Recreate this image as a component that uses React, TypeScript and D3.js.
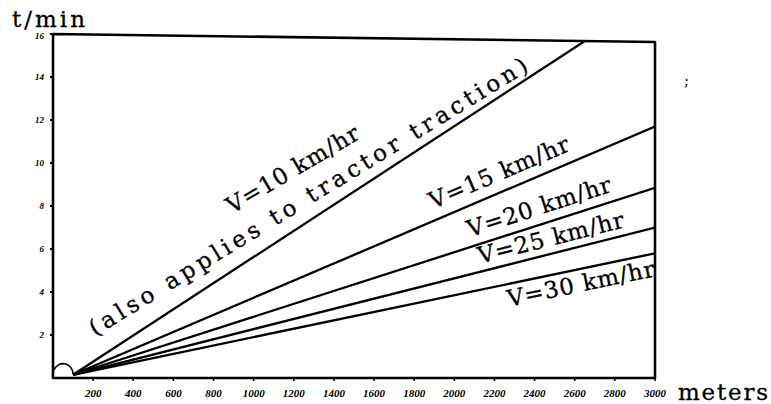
import React from 'react';
import * as d3 from 'd3';

// haul distance (meters) where each line starts and ends
const distances = [100, 3000];
// output t/min at those distances, one array per speed
const v10 = [0.15, 17.8];
const v15 = [0.15, 11.7];
const v20 = [0.15, 8.85];
const v25 = [0.15, 7.0];
const v30 = [0.15, 5.8];
const speedLabels = ['V=10 km/hr', 'V=15 km/hr', 'V=20 km/hr', 'V=25 km/hr', 'V=30 km/hr'];
// where each label starts along its line (meters)
const labelStarts = [892, 1894, 2078, 2128, 2272];
const note = '(also applies to tractor traction)';
const noteStart = 209;

const xTicks = [200, 400, 600, 800, 1000, 1200, 1400, 1600, 1800, 2000, 2200, 2400, 2600, 2800, 3000];
const yTicks = [2, 4, 6, 8, 10, 12, 14, 16];

const W = 771;
const H = 404;
// typewriter look: slab-ish serif glyphs set to a fixed pitch
const TYPE = '"DejaVu Serif", "Liberation Serif", serif';
const PITCH = 15;

export default function App() {
  const x = d3.scaleLinear().domain([0, 3000]).range([53, 655]);
  const y = d3.scaleLinear().domain([0, 16]).range([378, 34]);
  const x0 = x(0), x1 = x(3000), yb = y(0), yt = y(16);
  const topSkew = 8; // scan is slightly tilted at the top edge

  const series = [v10, v15, v20, v25, v30];
  const line = d3.line<number>().x((d, i) => x(distances[i])).y((d) => y(d));

  const frame = `M${x0},${yb} L${x0},${yt} L${x1},${yt + topSkew} L${x1},${yb} Z`;

  // vertical offsets of label baselines from their line (px, + is above)
  const labelLift = [57, 12, 10, 8, -23];
  // the hand-typed labels on the steep line sit a little flatter than it
  const labelTilt: (number | null)[] = [30.5, null, null, null, null];

  const placeOn = (vals: number[], dist: number, lift: number, tilt: number | null = null) => {
    const t = (dist - distances[0]) / (distances[1] - distances[0]);
    const v = vals[0] + t * (vals[1] - vals[0]);
    const px = x(dist);
    const py = y(v) - lift;
    const ang =
      tilt ??
      (Math.atan2(y(vals[0]) - y(vals[1]), x(distances[1]) - x(distances[0])) * 180) / Math.PI;
    return `translate(${px},${py}) rotate(${-ang})`;
  };

  return (
    <svg width={W} height={H} style={{ position: 'absolute', left: 0, top: 0, background: '#fff' }}>
      <defs>
        <clipPath id="plot">
          <path d={frame} />
        </clipPath>
      </defs>

      <g clipPath="url(#plot)">
        {series.map((s, i) => (
          <path key={i} d={line(s) || ''} fill="none" stroke="#000" strokeWidth={2.3} />
        ))}
      </g>

      <path d={frame} fill="none" stroke="#000" strokeWidth={2.6} strokeLinejoin="round" />

      {/* little arc at the origin */}
      <path
        d={`M${x0 + 1},${yb - 8} A10,11 0 0 1 ${x(100)},${yb - 4}`}
        fill="none"
        stroke="#000"
        strokeWidth={1.6}
      />

      {xTicks.map((t) => (
        <g key={t}>
          <line x1={x(t)} x2={x(t)} y1={yb} y2={yb + 3} stroke="#000" strokeWidth={1.5} />
          <text
            x={x(t)}
            y={397}
            textAnchor="middle"
            fontFamily='"Liberation Serif", serif'
            fontStyle="italic"
            fontWeight="bold"
            fontSize={11}
          >
            {t}
          </text>
        </g>
      ))}

      {yTicks.map((t) => (
        <g key={t}>
          <line x1={x0 - 3} x2={x0} y1={y(t)} y2={y(t)} stroke="#000" strokeWidth={2} />
          <text
            x={x0 - 9}
            y={y(t) + (t === 16 ? 5 : 3)}
            textAnchor="end"
            fontFamily='"Liberation Serif", serif'
            fontStyle="italic"
            fontWeight="bold"
            fontSize={9}
          >
            {t}
          </text>
        </g>
      ))}

      <g fontFamily={TYPE} fontSize={23} fill="#000" stroke="#000" strokeWidth={0.3}>
        <text x={12} y={27} textLength={5 * PITCH - 2} lengthAdjust="spacing">
          t/min
        </text>
        <text x={678} y={400} textLength={6 * PITCH} lengthAdjust="spacing">
          meters
        </text>
      </g>

      <g fontFamily={TYPE} fontSize={23} fill="#000" stroke="#000" strokeWidth={0.3}>
        {speedLabels.map((lab, i) => (
          <text
            key={lab}
            transform={placeOn(series[i], labelStarts[i], labelLift[i], labelTilt[i])}
            textLength={lab.length * PITCH}
            lengthAdjust="spacing"
          >
            {lab}
          </text>
        ))}
        <text
          transform={placeOn(v10, noteStart, 24, 31.5)}
          textLength={note.length * PITCH}
          lengthAdjust="spacing"
        >
          {note}
        </text>
      </g>

      <text x={684} y={86} fontFamily={TYPE} fontSize={15} fill="#000">
        ;
      </text>
    </svg>
  );
}
